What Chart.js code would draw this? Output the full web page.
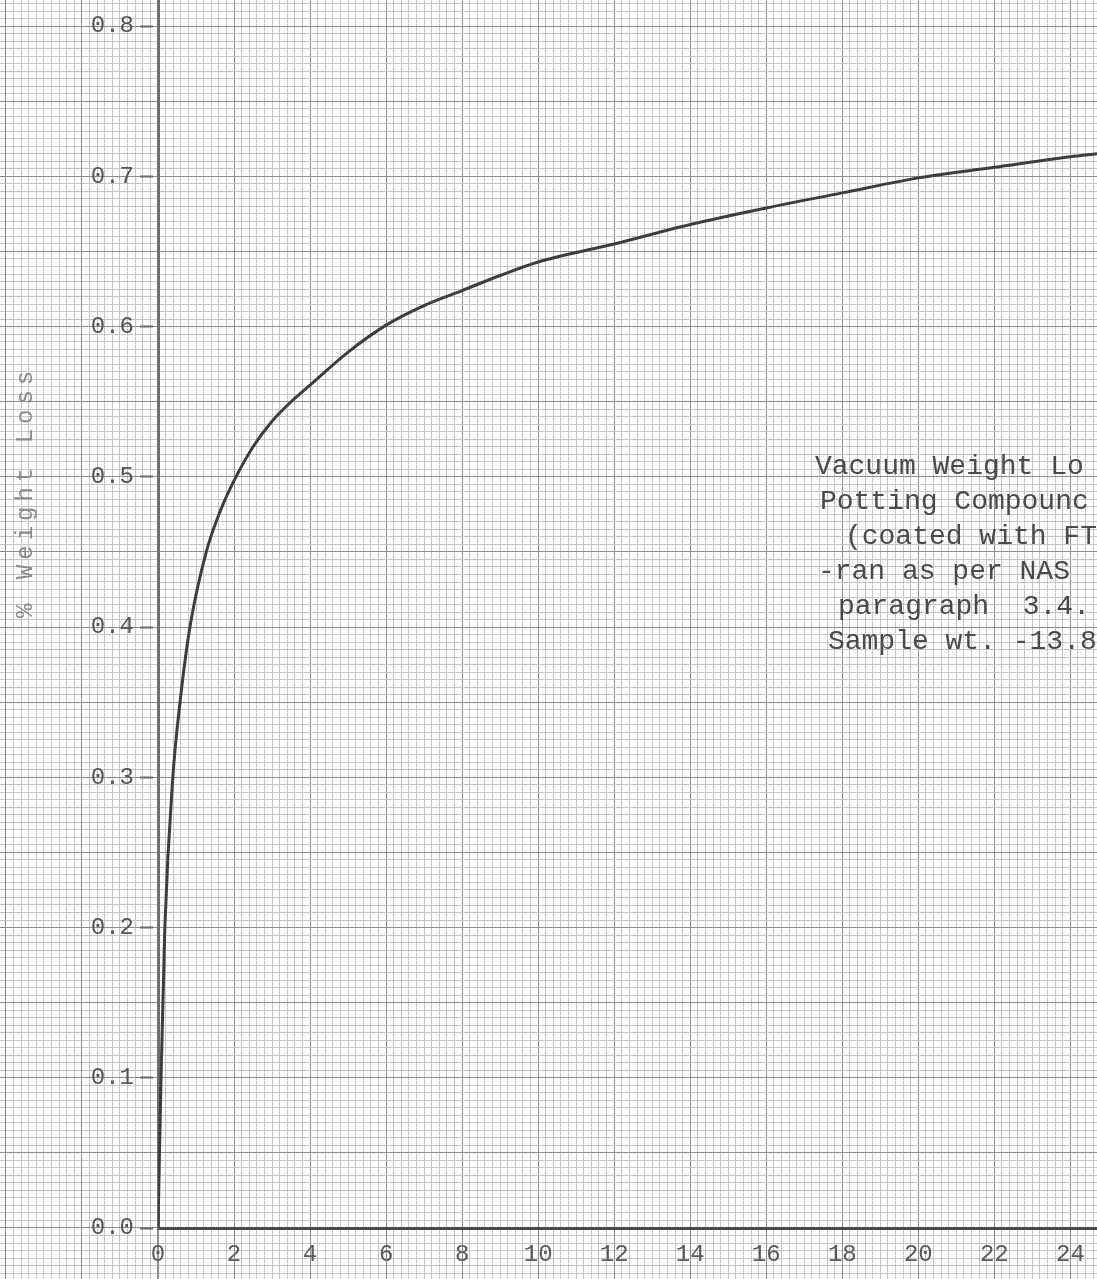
<!DOCTYPE html>
<html>
<head>
<meta charset="utf-8">
<title>Vacuum Weight Loss</title>
<script src="https://cdn.jsdelivr.net/npm/chart.js@4.4.0/dist/chart.umd.min.js"></script>
<style>
  html, body { margin: 0; padding: 0; background: #fff; }
  #paper { position: relative; width: 1097px; height: 1279px; overflow: hidden; background-color: #fdfdfd; }
  canvas { display: block; }
</style>
</head>
<body>
<div id="paper"><canvas id="lossChart" width="1097" height="1279"></canvas></div>
<script>
// values (hours vs % weight loss)
const hours      = [0, 0.08, 0.18, 0.39, 0.58, 0.84, 1.27, 1.65, 2.05, 2.5, 3.0, 3.5, 4.0, 5.0, 6.0, 7.0, 8.0, 9.0, 10, 12, 14, 16, 18, 20, 22, 24, 24.7];
const weightLoss = [0, 0.10, 0.20, 0.30, 0.35, 0.40, 0.45, 0.478, 0.50, 0.52, 0.537, 0.550, 0.561, 0.583, 0.601, 0.614, 0.624, 0.634, 0.643, 0.655, 0.668, 0.679, 0.689, 0.699, 0.706, 0.713, 0.715];

const xTickLabels = [0, 2, 4, 6, 8, 10, 12, 14, 16, 18, 20, 22, 24];
const yTickLabels = [0.0, 0.1, 0.2, 0.3, 0.4, 0.5, 0.6, 0.7, 0.8];

const yTitle = '% Weight Loss';
const noteLines = [
    'Vacuum Weight Lo',
    'Potting Compounc',
    '(coated with FT',
    '-ran as per NAS',
    'paragraph  3.4.',
    'Sample wt. -13.81'
];

// layout / style
const noteAt = [17.28, 0.507];          // where the typed note starts (data coords)
const noteIndent = [0, 5, 30, 3, 23, 13];
const noteLeading = 35;
const minorColor = '#c6c6c6';
const majorColor = '#8e8e8e';
const typeFont = '"Liberation Mono", "DejaVu Sans Mono", monospace';

const X_MAX = 24.7, Y_MAX = 0.817;
const X_MINOR = 0.2, Y_MINOR = 0.005;

function gridValues(max, step) {
    const out = [];
    for (let i = 0; i * step <= max + 1e-9; i++) {
        out.push({ value: Math.round(i * step * 10000) / 10000 });
    }
    return out;
}
function isMajor(v, step) {
    return Math.abs(v / step - Math.round(v / step)) < 1e-6;
}
function findLabel(list, v) {
    return list.find(t => Math.abs(t - v) < 1e-6);
}

const paperPlugin = {
    id: 'paper',
    beforeDraw(chart) {
        const { ctx, chartArea: a } = chart;
        ctx.save();
        ctx.fillStyle = '#fdfdfd';
        ctx.fillRect(a.left, a.top, a.right - a.left, a.bottom - a.top);
        ctx.restore();
    },
    afterDraw(chart) {
        const { ctx, scales: { x, y } } = chart;
        ctx.save();
        // typed note
        ctx.fillStyle = '#4a4a4a';
        ctx.font = '28px ' + typeFont;
        ctx.textBaseline = 'middle';
        const x0 = x.getPixelForValue(noteAt[0]);
        const y0 = y.getPixelForValue(noteAt[1]);
        noteLines.forEach((line, i) => {
            ctx.fillText(line, x0 + noteIndent[i], y0 + i * noteLeading);
        });
        // axis title, typed sideways
        ctx.translate(26, y.getPixelForValue(0.49));
        ctx.rotate(-Math.PI / 2);
        ctx.textAlign = 'center';
        ctx.font = '24px ' + typeFont;
        ctx.letterSpacing = '5px';
        ctx.fillStyle = '#8a8a8a';
        ctx.fillText(yTitle, 0, 0);
        ctx.restore();
    }
};

const ctx = document.getElementById('lossChart').getContext('2d');

const chart = new Chart(ctx, {
    type: 'line',
    data: {
        datasets: [{
            label: yTitle,
            data: hours.map((h, i) => ({ x: h, y: weightLoss[i] })),
            borderColor: '#3d3d3d',
            borderWidth: 3,
            pointRadius: 0,
            pointHoverRadius: 0,
            fill: false,
            cubicInterpolationMode: 'monotone'
        }]
    },
    options: {
        responsive: false,
        animation: false,
        devicePixelRatio: 1,
        events: [],
        layout: { padding: 0, autoPadding: false },
        plugins: {
            legend: { display: false },
            tooltip: { enabled: false }
        },
        scales: {
            x: {
                type: 'linear',
                min: 0,
                max: X_MAX,
                afterBuildTicks: s => { s.ticks = gridValues(X_MAX, X_MINOR); },
                afterFit: s => { s.height = 51; },
                grid: {
                    color: c => (c.tick && isMajor(c.tick.value, 2)) ? majorColor : minorColor,
                    lineWidth: 1,
                    drawTicks: true,
                    tickLength: 12,
                    tickColor: 'rgba(0,0,0,0)'
                },
                border: { color: '#4a4a4a', width: 3 },
                ticks: {
                    autoSkip: false,
                    maxRotation: 0,
                    padding: 0,
                    color: '#5a5a5a',
                    font: c => ({ family: typeFont, size: (c.tick && findLabel(xTickLabels, c.tick.value) !== undefined) ? 24 : 1 }),
                    callback: v => {
                        const t = findLabel(xTickLabels, v);
                        return t === undefined ? '' : String(t);
                    }
                }
            },
            y: {
                type: 'linear',
                min: 0,
                max: Y_MAX,
                afterBuildTicks: s => { s.ticks = gridValues(Y_MAX, Y_MINOR); },
                afterFit: s => { s.width = 158; },
                grid: {
                    color: c => (c.tick && isMajor(c.tick.value, 0.05)) ? majorColor : minorColor,
                    lineWidth: 1,
                    drawTicks: true,
                    tickLength: 24,
                    tickWidth: 2,
                    tickBorderDash: [13, 11],
                    tickBorderDashOffset: 18,
                    tickColor: c => (c.tick && findLabel(yTickLabels, c.tick.value) !== undefined) ? '#666' : 'rgba(0,0,0,0)'
                },
                border: { color: '#6e6e6e', width: 3 },
                ticks: {
                    autoSkip: false,
                    padding: 0,
                    color: '#555',
                    font: c => ({ family: typeFont, size: (c.tick && findLabel(yTickLabels, c.tick.value) !== undefined) ? 24 : 1 }),
                    callback: v => {
                        const t = findLabel(yTickLabels, v);
                        return t === undefined ? '' : t.toFixed(1);
                    }
                }
            }
        }
    },
    plugins: [paperPlugin]
});

// graph paper outside the plot area, lined up with the chart's own scales
(function () {
    const xs = chart.scales.x, ys = chart.scales.y;
    const px = xs.getPixelForValue(X_MINOR) - xs.getPixelForValue(0);
    const py = ys.getPixelForValue(0) - ys.getPixelForValue(Y_MINOR);
    const ox = xs.getPixelForValue(0), oy = ys.getPixelForValue(0);
    function lines(dir, offset, period, color) {
        const a = ((offset % period) + period) % period;
        const s = Math.max(a - 0.5, 0), e = a + 0.5;
        return `repeating-linear-gradient(${dir}, transparent 0px, transparent ${s}px, ${color} ${s}px, ${color} ${e}px, transparent ${e}px, transparent ${period}px)`;
    }
    document.getElementById('paper').style.backgroundImage = [
        lines('to right', ox, px * 10, majorColor),
        lines('to bottom', oy, py * 10, majorColor),
        lines('to right', ox, px, minorColor),
        lines('to bottom', oy, py, minorColor)
    ].join(',');
})();
</script>
</body>
</html>
